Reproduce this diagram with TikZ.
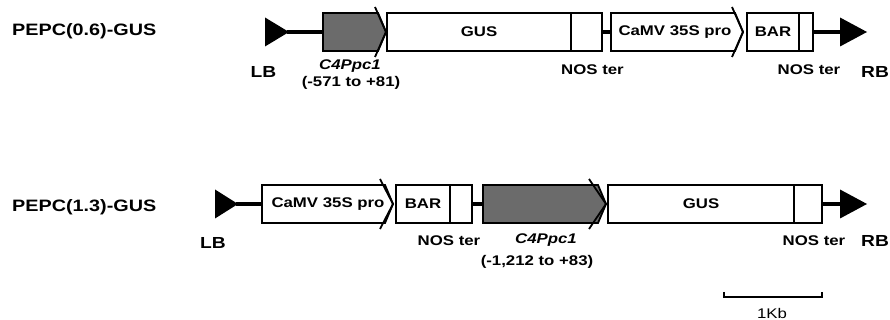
\documentclass[tikz,border=0pt]{standalone}
\usepackage{fontspec}
\setmainfont{Liberation Sans}[FakeStretch=1.2]

\tikzset{
  gene/.style={draw,line width=1.8pt,fill=white,minimum height=38pt,inner sep=0pt,outer sep=0pt,anchor=west,font=\bfseries\fontsize{14}{16}\selectfont},
  prom/.style={line width=1.8pt,line join=miter},
  bb/.style={line width=3.4pt},
  txt/.style={inner sep=0pt,font=\bfseries\fontsize{14}{16}\selectfont},
  itxt/.style={inner sep=0pt,font=\bfseries\itshape\fontsize{14}{16}\selectfont},
  brd/.style={inner sep=0pt,font=\bfseries\fontsize{16}{18}\selectfont},
  big/.style={inner sep=0pt,font=\bfseries\fontsize{16.5}{19}\selectfont},
}

\begin{document}
\begin{tikzpicture}[x=1pt,y=1pt]
\useasboundingbox (0,0) rectangle (890,320);
% PEPC(0.6)-GUS
\begin{scope}[shift={(0,288)}]
\node[big,anchor=west] (row1) at (12,1) {PEPC(0.6)-GUS};
\fill (265,14.5) -- (289,0) -- (265,-14.5) -- cycle;
\coordinate (lb1) at (287,0);
\node[brd] (lbt1) at (263.5,-40) {LB};
\begin{scope}[shift={(323,0)}]
\draw[prom,fill=black!58] (0,19) -- (55,19) -- (63,0) -- (55,-19) -- (0,-19) -- cycle;
\draw[prom] (52,25) -- (63,0) -- (52,-25);
\coordinate (pr1w) at (0,0);
\end{scope}
\node[itxt] (c4t1) at (350,-34) {C4Ppc1};
\node[txt] (rng1) at (351,-51) {(-571 to +81)};
\node[gene,minimum width=184pt] (gus1) at (387,0) {GUS};
\node[gene,minimum width=31pt,line width=1.2pt] (nos1) at (gus1.east) {};
\node[txt] (nost1) at (592.5,-38) {NOS ter};
\begin{scope}[shift={(611,0)}]
\draw[prom,fill=white] (0,19) -- (124,19) -- (132,0) -- (124,-19) -- (0,-19) -- cycle;
\draw[prom] (121,25) -- (132,0) -- (121,-25);
\coordinate (camv1w) at (0,0);
\end{scope}
\node[txt] (camvt1) at (675,0) {CaMV 35S pro};
\node[gene,minimum width=52pt] (bar1) at (747,0) {BAR};
\node[gene,minimum width=14pt,line width=1.2pt] (nos1b) at (bar1.east) {};
\node[txt] (nost1b) at (809,-38) {NOS ter};
\fill (840,14.5) -- (867,0) -- (840,-14.5) -- cycle;
\coordinate (rb1) at (842,0);
\node[brd] (rbt1) at (875,-40) {RB};
\draw[bb] (lb1) -- (pr1w);
\draw[bb] (nos1.east) -- (camv1w);
\draw[bb] (nos1b.east) -- (rb1);
\end{scope}
% PEPC(1.3)-GUS
\begin{scope}[shift={(0,116)}]
\node[big,anchor=west] (row2) at (12,-3) {PEPC(1.3)-GUS};
\fill (215,14.5) -- (238,0) -- (215,-14.5) -- cycle;
\coordinate (lb2) at (236,0);
\node[brd] (lbt2) at (213,-39) {LB};
\begin{scope}[shift={(262,0)}]
\draw[prom,fill=white] (0,19) -- (123,19) -- (131,0) -- (123,-19) -- (0,-19) -- cycle;
\draw[prom] (118,25) -- (131,0) -- (118,-25);
\coordinate (camv2w) at (0,0);
\end{scope}
\node[txt] (camvt2) at (328,0) {CaMV 35S pro};
\node[gene,minimum width=54pt] (bar2) at (396,0) {BAR};
\node[gene,minimum width=22pt,line width=1.2pt] (nos2) at (bar2.east) {};
\node[txt] (nost2) at (449,-37) {NOS ter};
\begin{scope}[shift={(483,0)}]
\draw[prom,fill=black!58] (0,19) -- (115,19) -- (123,0) -- (115,-19) -- (0,-19) -- cycle;
\draw[prom] (106,25) -- (123,0) -- (106,-25);
\coordinate (pr2w) at (0,0);
\end{scope}
\node[itxt] (c4t2) at (546,-36) {C4Ppc1};
\node[txt] (rng2) at (537,-58) {(-1,212 to +83)};
\node[gene,minimum width=186pt] (gus2) at (608,0) {GUS};
\node[gene,minimum width=28pt,line width=1.2pt] (nos2b) at (gus2.east) {};
\node[txt] (nost2b) at (814,-37) {NOS ter};
\fill (840,14.5) -- (867,0) -- (840,-14.5) -- cycle;
\coordinate (rb2) at (842,0);
\node[brd] (rbt2) at (875,-37) {RB};
\draw[bb] (lb2) -- (camv2w);
\draw[bb] (nos2.east) -- (pr2w);
\draw[bb] (nos2b.east) -- (rb2);
\end{scope}
% scale bar
\coordinate (sbl) at (724,23);
\coordinate (sbr) at (822,23);
\draw[line width=1.8pt] (724,28) -- (sbl) -- (sbr) -- (822,28);
\node[inner sep=0pt,font=\fontsize{14}{16}\selectfont] (kb) at (772,7) {1Kb};
\end{tikzpicture}
\end{document}
